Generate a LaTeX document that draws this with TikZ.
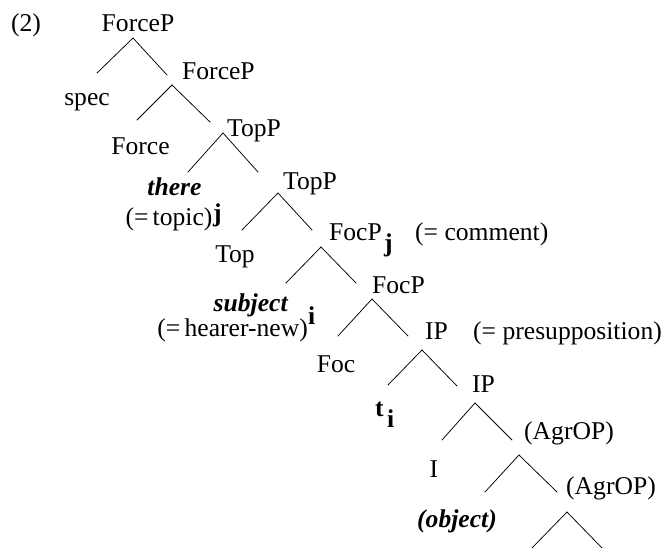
\documentclass[tikz,border=0pt]{standalone}
\usepackage{fontspec}
\setmainfont{Liberation Serif}
\begin{document}
\begin{tikzpicture}[x=1pt,y=-1pt,
  lbl/.style={inner sep=0pt,anchor=base,font=\fontsize{25.6}{28}\selectfont},
  lblw/.style={lbl,anchor=base west},
  lble/.style={lbl,anchor=base east},
  branch/.style={line width=0.75pt,line cap=round}]
\useasboundingbox (0,0) rectangle (665,548);

% example number and labels
\node[lbl] (exnum) at (26,32) {(2)};
\node[lbl] (forceP) at (138,32) {ForceP};
\node[lbl] (spec) at (87,106) {spec};
\node[lblw] (forceP2) at (182,80) {ForceP};
\node[lbl] (force) at (140.5,155) {Force};
\node[lblw] (topP) at (227,137) {TopP};
\node[lbl] (there) at (174.5,196) {\textbf{\textit{there}}};
\node[lbl] (topic) at (169,226) {(=\,topic)};
\node[lblw] (jthere) at (213,222) {\textbf{j}};
\node[lblw] (topP2) at (283,190) {TopP};
\node[lbl] (top) at (235,263) {Top};
\node[lblw] (focP) at (329,241) {FocP};
\node[lblw] (focj) at (384,252) {\textbf{j}};
\node[lblw] (comment) at (415,241) {(= comment)};
\node[lblw] (focP2) at (372,294) {FocP};
\node[lbl] (subject) at (251,312) {\textbf{\textit{subject}}};
\node[lblw] (isubj) at (308,325) {\textbf{i}};
\node[lble] (hearer) at (308,337) {(=\,hearer-new)};
\node[lblw] (ip) at (425,340) {IP};
\node[lblw] (presup) at (473,340) {(= presupposition)};
\node[lbl] (foc) at (336,373) {Foc};
\node[lblw] (trace) at (375,417) {\textbf{t}};
\node[lblw] (tsub) at (387,428) {\textbf{i}};
\node[lblw] (ip2) at (472,393) {IP};
\node[lblw] (agrop) at (524,440) {(AgrOP)};
\node[lbl] (infl) at (434,478) {I};
\node[lblw] (agrop2) at (566,494) {(AgrOP)};
\node[lbl] (object) at (457,527) {\textbf{\textit{(object)}}};

% branch points: apex, left foot, right foot
\foreach \n/\ax/\ay/\lx/\ly/\rx/\ry in {
  1/133/38/97/73/167/75,
  2/172/85/137/120/210/122,
  3/223/133/188/172/258/172,
  4/278/193/242/230/312/230,
  5/321/247/286/283/356/283,
  6/372/299/338/336/408/336,
  7/422/350/388/385/457/386,
  8/475/403/442/440/512/440,
  9/519/455/485/492/557/492,
  10/567/512/532/548/602/548}{
  \coordinate (A\n) at (\ax,\ay);
  \coordinate (L\n) at (\lx,\ly);
  \coordinate (R\n) at (\rx,\ry);
  \draw[branch] (L\n) -- (A\n) -- (R\n);
}
\end{tikzpicture}
\end{document}
